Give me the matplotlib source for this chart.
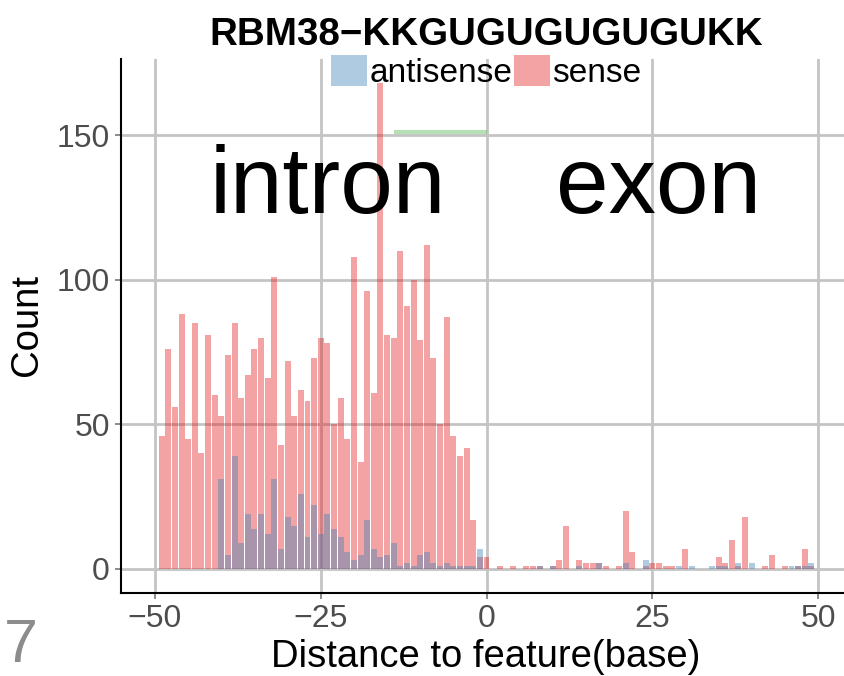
import matplotlib
matplotlib.use("Agg")
import matplotlib.pyplot as plt
from matplotlib.patches import Patch
import numpy as np

plt.rcParams["font.family"] = ["Liberation Sans", "DejaVu Sans"]

# distance to feature, one bar per base
positions = list(range(-49, 50))

sense = [
    46, 76, 56, 88, 45, 85, 40, 81, 60, 53,
    74, 85, 59, 67, 76, 80, 66, 101, 43, 72,
    53, 62, 58, 73, 80, 78, 50, 59, 45, 108,
    37, 96, 61, 168, 81, 80, 110, 91, 100, 79,
    112, 73, 50, 87, 46, 39, 42, 17, 4, 4,
    0, 1, 0, 1, 0, 1, 1, 1, 0, 1,
    3, 15, 0, 3, 2, 2, 2, 1, 0, 1,
    20, 6, 0, 1, 2, 2, 1, 1, 0, 7,
    0, 0, 0, 0, 4, 2, 10, 1, 18, 0,
    0, 1, 5, 0, 1, 0, 1, 7, 1,
]

antisense = [
    0, 0, 0, 0, 0, 0, 0, 0, 0, 31,
    5, 39, 9, 19, 14, 19, 12, 31, 7, 18,
    15, 26, 11, 22, 12, 19, 14, 11, 6, 3,
    5, 17, 7, 4, 5, 9, 1, 2, 1, 5,
    6, 2, 1, 2, 1, 1, 1, 1, 7, 0,
    0, 0, 0, 0, 0, 0, 0, 1, 0, 1,
    0, 0, 0, 1, 0, 0, 2, 0, 0, 0,
    2, 0, 0, 3, 0, 0, 0, 0, 1, 0,
    1, 0, 0, 1, 1, 1, 0, 2, 0, 2,
    0, 0, 0, 0, 0, 1, 1, 1, 2,
]

motif_start, motif_end, motif_y = -14, 0, 151
region_labels = [("intron", -24, 123), ("exon", 26, 123)]

red = "#E41A1C"
blue = "#377EB8"
green = "#4DAF4A"

W, H = 845, 676
fig = plt.figure(figsize=(W / 100, H / 100), dpi=100)
ax = fig.add_axes([121 / W, 1 - 593.3 / H, (W - 121) / W, (593.3 - 58.7) / H])

ax.bar(positions, sense, width=0.9, color=red, alpha=0.4, linewidth=0)
ax.bar(positions, antisense, width=0.9, color=blue, alpha=0.4, linewidth=0)
ax.hlines(motif_y, motif_start, motif_end, color=green, alpha=0.4, linewidth=3)

for label, xpos, ypos in region_labels:
    ax.text(xpos, ypos, label, fontsize=68, ha="center", va="baseline", color="black")

ax.set_xlim(-55.13, 54.07)
ax.set_ylim(-8.4, 176.4)
ax.set_xticks([-50, -25, 0, 25, 50])
ax.set_yticks([0, 50, 100, 150])
ax.grid(True, color="#C4C4C4", linewidth=2)
ax.set_axisbelow(True)
for side in ["top", "right"]:
    ax.spines[side].set_visible(False)
for side in ["left", "bottom"]:
    ax.spines[side].set_color("black")
    ax.spines[side].set_linewidth(1.5)
ax.tick_params(axis="both", labelsize=23, labelcolor="#4D4D4D", color="#777777",
               length=4, width=1.2)
ax.tick_params(axis="x", pad=3.5)
ax.tick_params(axis="y", pad=4)

fig.text(486 / W, 1 - 45 / H, "RBM38\u2212KKGUGUGUGUGUKK", fontsize=27.7,
         fontweight="bold", ha="center", va="baseline")
fig.text(486 / W, 1 - 667 / H, "Distance to feature(base)", fontsize=27.5,
         ha="center", va="baseline")
fig.text(27 / W, 1 - 325 / H, "Count", fontsize=27.5, rotation=90,
         ha="center", va="center")
fig.text(4 / W, 1 / H, "7", fontsize=44, color="#8C8C8C",
         ha="left", va="bottom")

handles = [Patch(facecolor=blue, alpha=0.4, linewidth=0),
           Patch(facecolor=red, alpha=0.4, linewidth=0)]
fig.legend(handles, ["antisense", "sense"], loc="center",
           bbox_to_anchor=(486 / W, 1 - 72 / H), ncol=2, frameon=False,
           fontsize=24, handlelength=1.1, handleheight=1.05,
           handletextpad=0.05, columnspacing=0.05, borderpad=0)

fig.savefig("out.png", dpi=100)
